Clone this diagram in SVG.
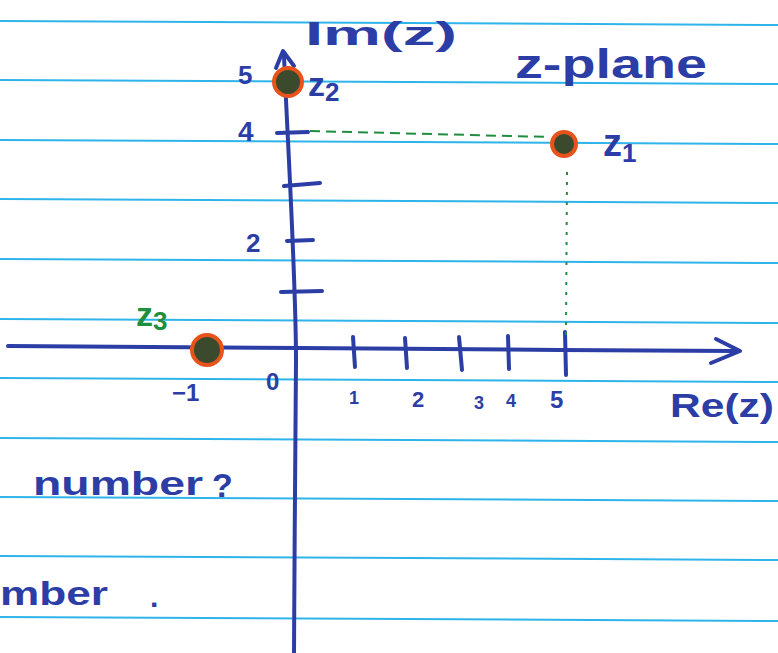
<svg xmlns="http://www.w3.org/2000/svg" width="778" height="653" viewBox="0 0 778 653">
<style>
.rule{stroke:#2fb4ea;stroke-width:2;fill:none}
.ink{stroke:#2c3ea6;stroke-width:4;fill:none;stroke-linecap:round;stroke-linejoin:round}
.tick{stroke:#2c3ea6;stroke-width:4;fill:none;stroke-linecap:round}
.t{font-family:"Liberation Sans",Arial,sans-serif;fill:#2c3ea6;font-weight:bold}
.g{font-family:"Liberation Sans",Arial,sans-serif;fill:#1e8f3e;font-weight:bold}
.dot{fill:#3b4a2c;stroke:#e8531c;stroke-width:4}
.guide{stroke:#1e8f3e;stroke-width:2;fill:none}
</style>
<rect width="778" height="653" fill="#ffffff"/>
<g id="ruling">
<line class="rule" x1="0" y1="21" x2="778" y2="25"/>
<line class="rule" x1="0" y1="80" x2="778" y2="84"/>
<line class="rule" x1="0" y1="140" x2="778" y2="144"/>
<line class="rule" x1="0" y1="199" x2="778" y2="203"/>
<line class="rule" x1="0" y1="259" x2="778" y2="263"/>
<line class="rule" x1="0" y1="319" x2="778" y2="323"/>
<line class="rule" x1="0" y1="378" x2="778" y2="382"/>
<line class="rule" x1="0" y1="438" x2="778" y2="442"/>
<line class="rule" x1="0" y1="497" x2="778" y2="501"/>
<line class="rule" x1="0" y1="556" x2="778" y2="560"/>
<line class="rule" x1="0" y1="617" x2="778" y2="621"/>
</g>
<g id="axes">
<path class="ink" d="M284 56 C288 150 296 280 296 360 S294 560 294 653"/>
<path class="ink" d="M276 68 L283 51 L294 66"/>
<path class="ink" d="M8 346 L300 348 L560 350 L735 351"/>
<path class="ink" d="M716 339 L740 351 L711 363"/>
<path class="tick" d="M277 133 L308 132"/>
<path class="tick" d="M284 186 L320 183"/>
<path class="tick" d="M287 241 L313 240"/>
<path class="tick" d="M281 292 L322 291"/>
<path class="tick" d="M353 337 L355 367"/>
<path class="tick" d="M405 338 L407 368"/>
<path class="tick" d="M459 337 L462 370"/>
<path class="tick" d="M508 336 L509 369"/>
<path class="tick" d="M565 332 L566 375"/>
</g>
<g id="axis-labels">
<text class="t" x="305" y="45" font-size="34" textLength="152" lengthAdjust="spacingAndGlyphs">Im(z)</text>
<text class="t" x="670" y="417" font-size="34" textLength="104" lengthAdjust="spacingAndGlyphs">Re(z)</text>
<text class="t" x="515" y="78" font-size="40" textLength="192" lengthAdjust="spacingAndGlyphs">z-plane</text>
<text class="t" x="238" y="84" font-size="26">5</text>
<text class="t" x="238" y="141" font-size="28">4</text>
<text class="t" x="246" y="252" font-size="26">2</text>
<text class="t" x="172" y="401" font-size="24">−1</text>
<text class="t" x="266" y="390" font-size="24">0</text>
<text class="t" x="349" y="404" font-size="18">1</text>
<text class="t" x="412" y="407" font-size="22">2</text>
<text class="t" x="474" y="409" font-size="18">3</text>
<text class="t" x="506" y="407" font-size="18">4</text>
<text class="t" x="550" y="408" font-size="24">5</text>
<text class="t" x="33" y="495" font-size="34" textLength="170" lengthAdjust="spacingAndGlyphs">number</text>
<text class="t" x="212" y="497" font-size="34">?</text>
<text class="t" x="0" y="605" font-size="34" textLength="108" lengthAdjust="spacingAndGlyphs">mber</text>
<text class="t" x="150" y="607" font-size="30">.</text>
</g>
<g id="connectors">
<path class="guide" d="M310 131 L550 137" stroke-dasharray="10 6"/>
<path class="guide" d="M567 172 L566 335" stroke-dasharray="3 7"/>
</g>
<g id="z1">
<circle class="dot" cx="564" cy="144" r="12"/>
<text class="t" x="603" y="156" font-size="38">z<tspan font-size="26" dy="6">1</tspan></text>
</g>
<g id="z2">
<circle class="dot" cx="288" cy="82" r="14"/>
<text class="t" x="308" y="96" font-size="34">z<tspan font-size="26" dy="5">2</tspan></text>
</g>
<g id="z3">
<circle class="dot" cx="207" cy="350" r="15"/>
<text class="g" x="136" y="326" font-size="34">z<tspan font-size="26" dy="4">3</tspan></text>
</g>
</svg>
